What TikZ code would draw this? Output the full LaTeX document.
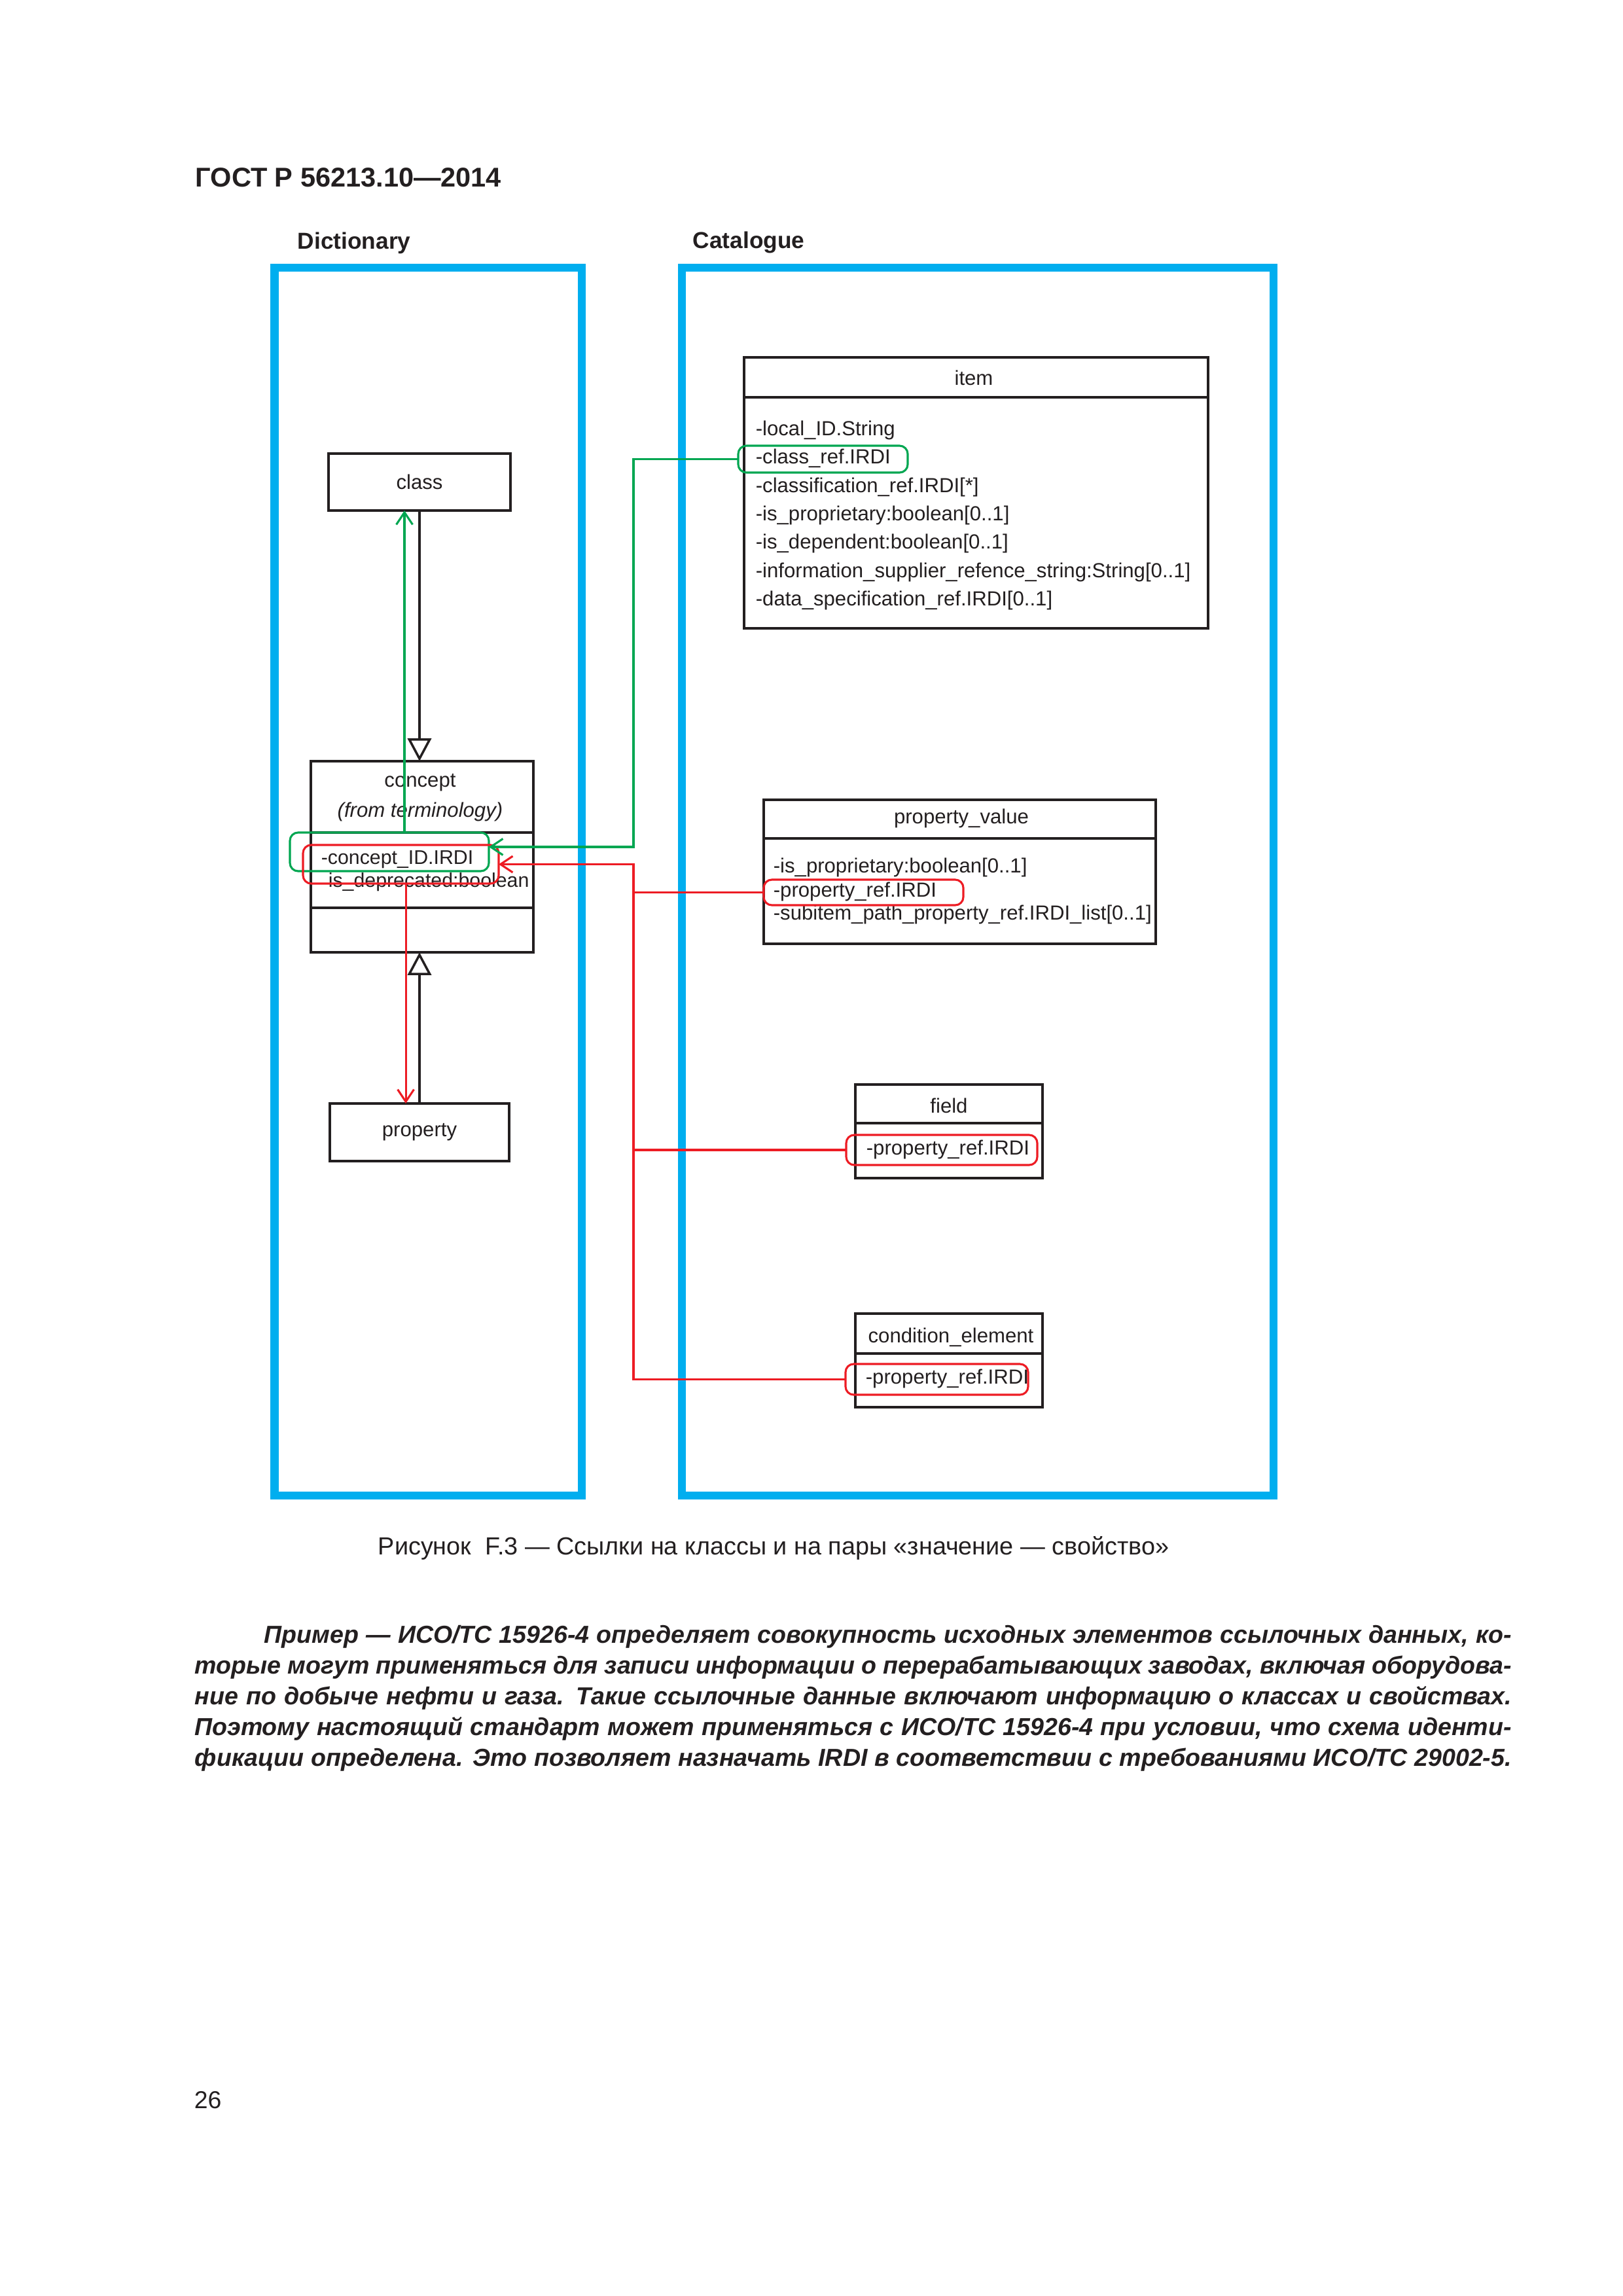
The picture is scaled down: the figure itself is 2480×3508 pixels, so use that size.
\documentclass[tikz,border=0pt]{standalone}
\usepackage{fontspec}
\setmainfont{Liberation Sans}
\usetikzlibrary{calc}
\usetikzlibrary{arrows.meta}

\definecolor{frameblue}{RGB}{0,174,239}
\definecolor{refgreen}{RGB}{0,166,81}
\definecolor{refred}{RGB}{237,28,36}
\definecolor{inkgray}{RGB}{35,31,32}

\newcommand\pxu{0.084667mm}
\newcommand\dgmfont{\fontsize{7.5}{9}\selectfont}
\newcommand\exfont{\fontsize{9.05}{11.3}\selectfont\bfseries\itshape}
\newlength\exwidth
\setlength\exwidth{170.35mm}

\tikzset{
  boxdim/.style 2 args={minimum width=#1*\pxu, minimum height=#2*\pxu},
  umlbox/.style={draw=inkgray, line width=0.85pt, inner sep=0pt, outer sep=0pt},
  umlline/.style={draw=inkgray, line width=0.85pt},
  frame/.style={draw=frameblue, line width=2.9pt, inner sep=0pt, outer sep=0pt},
  hlgreen/.style={draw=refgreen, line width=0.75pt, rounded corners=3pt, inner sep=0pt, outer sep=0pt},
  hlred/.style={draw=refred, line width=0.75pt, rounded corners=3pt, inner sep=0pt, outer sep=0pt},
  head/.style={anchor=base west, inner sep=0pt, font=\fontsize{8.5}{10}\selectfont\bfseries},
  ttl/.style={anchor=base, inner sep=0pt, font=\dgmfont},
  attr/.style={anchor=base west, inner sep=0pt, font=\dgmfont},
  exline/.style={anchor=base west, inner sep=0pt, font=\exfont},
  gline/.style={draw=refgreen, line width=0.75pt},
  rline/.style={draw=refred, line width=0.75pt},
  refarrow/.style={-{Straight Barb[length=4.5pt,width=6pt]}},
  genarrow/.style={draw=inkgray, line width=0.85pt, -{Triangle[open,length=8.4pt,width=8.7pt]}},
}

\begin{document}
\begin{tikzpicture}[x=\pxu, y=-\pxu, text=inkgray]

\fill[white] (0,0) rectangle (2480,3508);
\useasboundingbox (0,0) rectangle (2480,3508);

\node[anchor=base west, inner sep=0pt, font=\fontsize{10}{12}\selectfont\bfseries] (gost) at (298,285) {ГОСТ Р 56213.10—2014};

% frames
\node[head] (dictLabel) at (454,380) {Dictionary};
\node[head] (catLabel) at (1058,379) {Catalogue};
\node[frame, boxdim={469.5}{1876}] (dictFrame) at (654.25,1347) {};
\node[frame, boxdim={904}{1876}] (catFrame) at (1494,1347) {};

% dictionary
\node[umlbox, boxdim={278}{87}, font=\dgmfont] (cls) at (641,736.5) {class};

\node[umlbox, boxdim={340}{292}] (concept) at (645,1309) {};
\draw[umlline] (concept.west |- 0,1272) -- (concept.east |- 0,1272);
\draw[umlline] (concept.west |- 0,1387) -- (concept.east |- 0,1387);
\node[ttl] (conceptT) at (642,1202) {concept};
\node[ttl, font=\dgmfont\itshape] (conceptS) at (642,1248) {(from terminology)};
\node[attr, font=\fontsize{7.3}{9}\selectfont] (conceptA) at (490,1320) {-concept\_ID.IRDI};
\node[attr, font=\fontsize{7.3}{9}\selectfont] (conceptB) at (501,1355) {is\_deprecated:boolean};

\node[umlbox, boxdim={274}{88}, font=\dgmfont] (prop) at (641,1730) {property};

% catalogue
\node[umlbox, boxdim={709}{414}] (item) at (1491.5,753) {};
\draw[umlline] (item.west |- 0,607) -- (item.east |- 0,607);
\node[ttl] (itemT) at (1488,588) {item};
\node[attr] (itemA) at (1154,665) {-local\_ID.String};
\node[attr] (itemB) at (1154,708) {-class\_ref.IRDI};
\node[attr] (itemC) at (1154,752) {-classification\_ref.IRDI[*]};
\node[attr] (itemD) at (1154,795) {-is\_proprietary:boolean[0..1]};
\node[attr] (itemE) at (1154,838) {-is\_dependent:boolean[0..1]};
\node[attr] (itemF) at (1154,882) {-information\_supplier\_refence\_string:String[0..1]};
\node[attr] (itemG) at (1154,925) {-data\_specification\_ref.IRDI[0..1]};

\node[umlbox, boxdim={599}{220}] (pval) at (1466.5,1332) {};
\draw[umlline] (pval.west |- 0,1281) -- (pval.east |- 0,1281);
\node[ttl] (pvalT) at (1469,1258) {property\_value};
\node[attr] (pvalA) at (1181,1333) {-is\_proprietary:boolean[0..1]};
\node[attr] (pvalB) at (1181,1370) {-property\_ref.IRDI};
\node[attr] (pvalC) at (1181,1405) {-subitem\_path\_property\_ref.IRDI\_list[0..1]};

\node[umlbox, boxdim={286}{143}] (field) at (1450,1728.5) {};
\draw[umlline] (field.west |- 0,1716) -- (field.east |- 0,1716);
\node[ttl] (fieldT) at (1450,1700) {field};
\node[attr] (fieldA) at (1323,1764) {-property\_ref.IRDI};

\node[umlbox, boxdim={286}{143}] (cond) at (1450,2078.5) {};
\draw[umlline] (cond.west |- 0,2068) -- (cond.east |- 0,2068);
\node[ttl] (condT) at (1453,2051) {condition\_element};
\node[attr] (condA) at (1322,2114) {-property\_ref.IRDI};

% marked references
\node[hlgreen, boxdim={259}{41}] (gItem) at (1257.5,701.5) {};
\node[hlgreen, boxdim={304}{59}] (gConcept) at (595,1301.5) {};
\node[hlred, boxdim={299}{59}] (rConcept) at (612.5,1320.5) {};
\node[hlred, boxdim={305}{39}] (rPval) at (1319.5,1363.5) {};
\node[hlred, boxdim={292}{46}] (rField) at (1439,1757) {};
\node[hlred, boxdim={279}{47}] (rCond) at (1431.5,2107.5) {};

\coordinate (bus) at (968,1300);
\coordinate (gIn) at ([yshift=0.64mm]gConcept.east);

\draw[genarrow] (cls.south) -- (cls.south |- concept.north);
\draw[genarrow] (prop.north) -- (prop.north |- concept.south);

\draw[gline, refarrow] ([xshift=1.95mm]gConcept.north) -- ([xshift=1.95mm]gConcept.north |- cls.south);
\draw[gline, refarrow] (gItem.west) -| (bus |- gIn) -- (gIn);

\draw[rline, refarrow] (rCond.west) -| (bus |- rConcept.east) -- (rConcept.east);
\draw[rline] (rPval.west) -- (bus |- rPval.west);
\draw[rline] (rField.west) -- (bus |- rField.west);
\draw[rline, refarrow] ([xshift=0.64mm]rConcept.south) -- ([xshift=0.64mm]rConcept.south |- prop.north);

% caption and example
\node[anchor=base, inner sep=0pt, font=\fontsize{9.1}{11}\selectfont] (caption) at (1182,2375) {Рисунок\ \ F.3 — Ссылки на классы и на пары «значение — свойство»};

\node[exline] (exA) at (297,2510) {\makebox[\exwidth][s]{\hspace*{25.5pt}Пример — ИСО/ТС 15926-4 определяет совокупность исходных элементов ссылочных данных, ко-}};
\node[exline] (exB) at (297,2557) {\makebox[\exwidth][s]{торые могут применяться для записи информации о перерабатывающих заводах, включая оборудова-}};
\node[exline] (exC) at (297,2604) {\makebox[\exwidth][s]{ние по добыче нефти и газа. Такие ссылочные данные включают информацию о классах и свойствах.}};
\node[exline] (exD) at (297,2651) {\makebox[\exwidth][s]{Поэтому настоящий стандарт может применяться с ИСО/ТС 15926-4 при условии, что схема иденти-}};
\node[exline] (exE) at (297,2698) {\makebox[\exwidth][s]{фикации определена. Это позволяет назначать IRDI в соответствии с требованиями ИСО/ТС 29002-5.}};

\node[anchor=base west, inner sep=0pt, font=\fontsize{9}{11}\selectfont] (pageNo) at (296,3221) {26};

\end{tikzpicture}
\end{document}
